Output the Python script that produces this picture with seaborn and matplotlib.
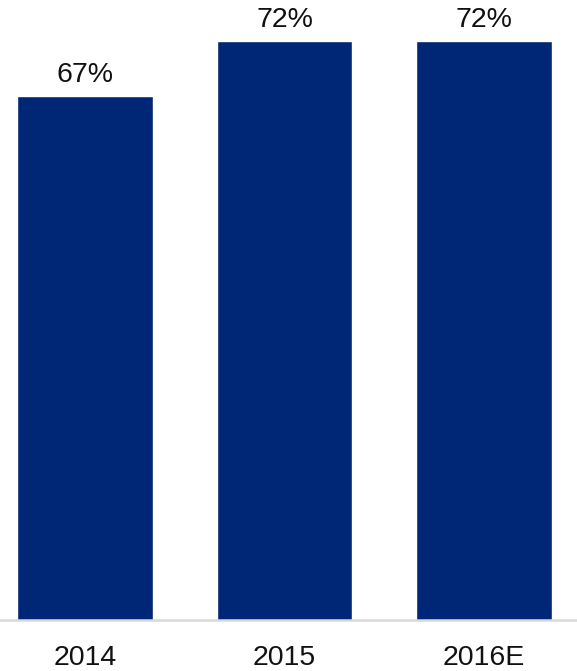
import matplotlib
matplotlib.use("Agg")
import matplotlib.pyplot as plt
import seaborn as sns
import pandas as pd

# Share of revenue by year
years = ["2014", "2015", "2016E"]
shares = [67, 72, 72]
value_labels = ["67%", "72%", "72%"]

sns.set_theme(style="white")
plt.rcParams["font.family"] = ["Liberation Sans", "DejaVu Sans"]

df = pd.DataFrame({"year": years, "share": shares})

fig = plt.figure(figsize=(5.77, 6.71), dpi=100)
ax = fig.add_axes([0.0, 51 / 671, 1.0, 620 / 671])

sns.barplot(data=df, x="year", y="share", color="#002776", saturation=1,
            width=0.68, ax=ax)

ax.set_xlim(-0.426, 2.466)
ax.set_ylim(19.5, 75.7)

for patch, lab in zip(ax.patches, value_labels):
    ax.annotate(lab, (patch.get_x() + patch.get_width() / 2, patch.get_height()),
                xytext=(0, 5.5), textcoords="offset points",
                ha="center", va="bottom", fontsize=20.5, color="#111111")

for side in ["left", "right", "top"]:
    ax.spines[side].set_visible(False)
ax.spines["bottom"].set_color("#D9D9D9")
ax.spines["bottom"].set_linewidth(1.8)
ax.set_yticks([])
ax.set_xlabel("")
ax.set_ylabel("")
ax.tick_params(axis="x", length=0, pad=18, labelsize=20.5, labelcolor="#111111")

fig.savefig("out.png", dpi=100)
